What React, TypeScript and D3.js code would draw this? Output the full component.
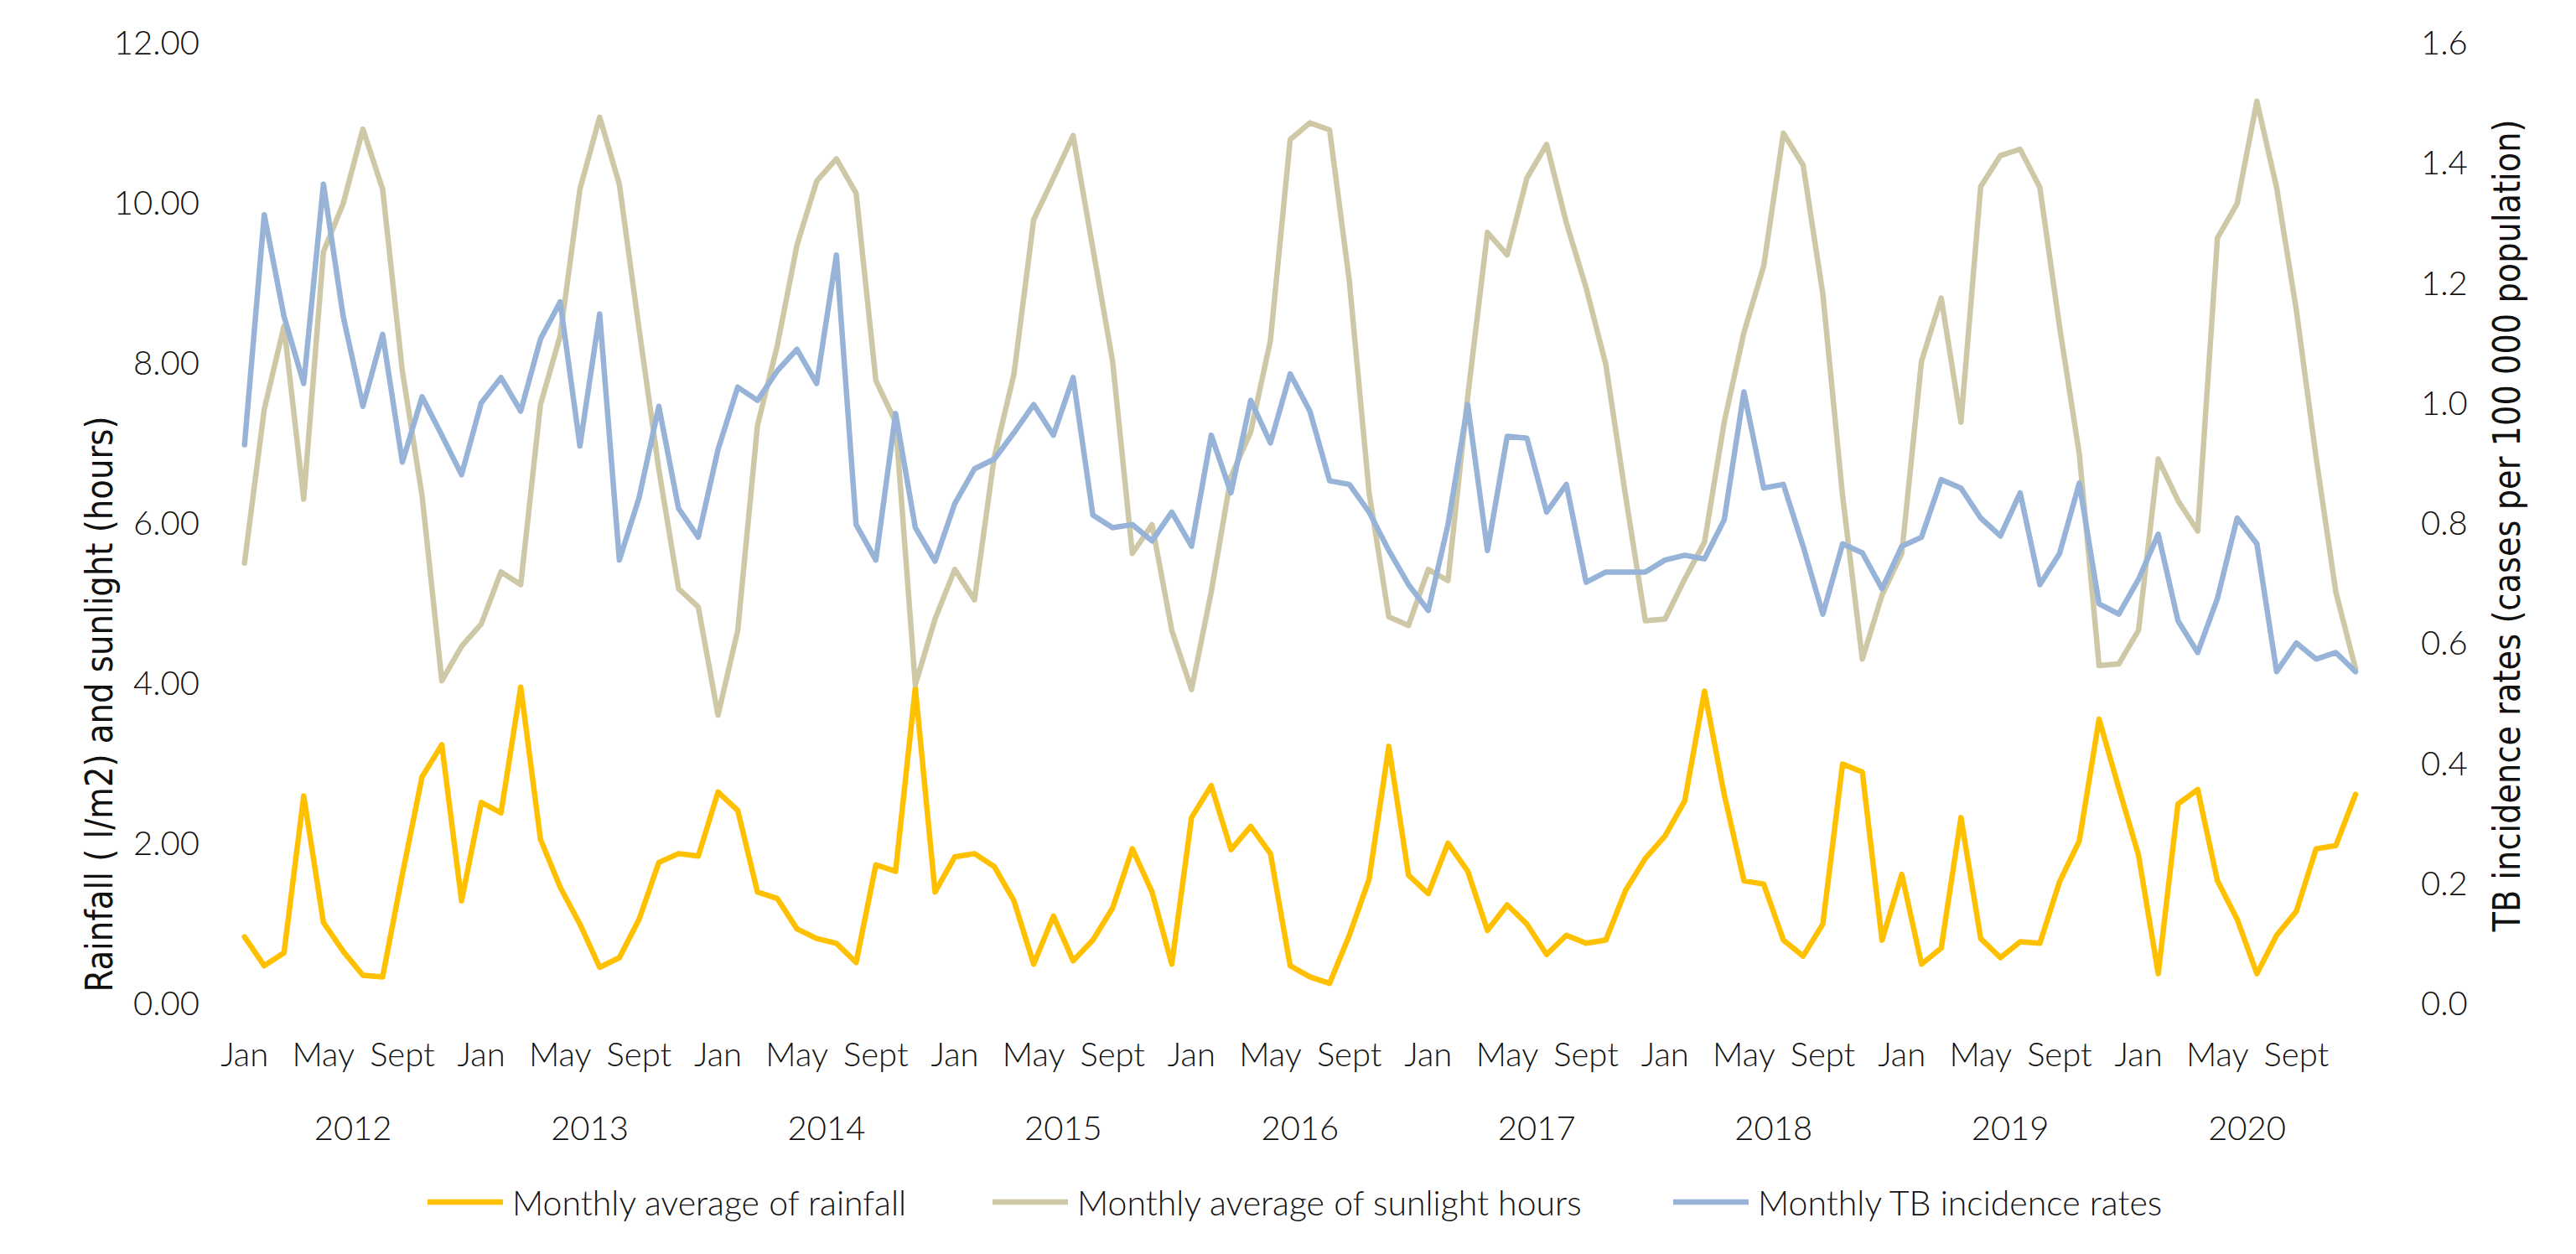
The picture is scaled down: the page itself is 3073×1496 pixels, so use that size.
import * as d3 from "d3";

// monthly values Jan 2012 .. Dec 2020
const years = [2012, 2013, 2014, 2015, 2016, 2017, 2018, 2019, 2020];
const monthTicks = [
  { offset: 0, label: "Jan" },
  { offset: 4, label: "May" },
  { offset: 8, label: "Sept" },
];

const rainfall = [
  0.82, 0.46, 0.62, 2.58, 1.0, 0.64, 0.34, 0.32, 1.6, 2.82, 3.22, 1.27,
  2.5, 2.37, 3.94, 2.04, 1.44, 0.98, 0.44, 0.56, 1.04, 1.75, 1.86, 1.83,
  2.63, 2.4, 1.38, 1.3, 0.92, 0.8, 0.74, 0.5, 1.72, 1.64, 3.93, 1.38,
  1.82, 1.86, 1.7, 1.27, 0.48, 1.08, 0.52, 0.78, 1.18, 1.92, 1.38, 0.48,
  2.31, 2.71, 1.91, 2.2, 1.86, 0.46, 0.32, 0.24, 0.84, 1.54, 3.2, 1.59,
  1.36, 1.99, 1.64, 0.9, 1.22, 0.98, 0.6, 0.84, 0.74, 0.78, 1.4, 1.8,
  2.08, 2.52, 3.89, 2.6, 1.52, 1.48, 0.78, 0.58, 0.98, 2.98, 2.88, 0.78,
  1.6, 0.48, 0.68, 2.31, 0.8, 0.56, 0.76, 0.74, 1.51, 2.02, 3.54, 2.68,
  1.84, 0.36, 2.48, 2.66, 1.52, 1.04, 0.36, 0.84, 1.14, 1.92, 1.96, 2.6,
];

const sunlight = [
  5.49, 7.41, 8.45, 6.29, 9.38, 9.98, 10.91, 10.16, 7.89, 6.33, 4.02, 4.45,
  4.73, 5.38, 5.22, 7.47, 8.33, 10.16, 11.06, 10.22, 8.41, 6.66, 5.17, 4.94,
  3.59, 4.65, 7.21, 8.2, 9.46, 10.26, 10.54, 10.11, 7.77, 7.25, 3.97, 4.79,
  5.41, 5.03, 6.81, 7.85, 9.78, 10.3, 10.83, 9.42, 8.01, 5.61, 5.97, 4.65,
  3.91, 5.13, 6.57, 7.13, 8.27, 10.78, 10.99, 10.9, 9.01, 6.37, 4.82, 4.71,
  5.41, 5.27, 7.57, 9.62, 9.34, 10.3, 10.72, 9.74, 8.93, 7.97, 6.33, 4.77,
  4.79, 5.29, 5.75, 7.25, 8.37, 9.2, 10.86, 10.46, 8.85, 6.33, 4.29, 5.09,
  5.61, 8.01, 8.8, 7.25, 10.19, 10.58, 10.66, 10.18, 8.44, 6.85, 4.21, 4.23,
  4.65, 6.79, 6.27, 5.89, 9.55, 9.98, 11.26, 10.18, 8.65, 6.81, 5.13, 4.17,
];

const tbRates = [
  0.929, 1.312, 1.143, 1.031, 1.363, 1.143, 0.993, 1.113, 0.9, 1.009, 0.945, 0.879,
  0.999, 1.041, 0.985, 1.105, 1.167, 0.927, 1.147, 0.737, 0.841, 0.993, 0.823, 0.775,
  0.921, 1.025, 1.003, 1.052, 1.088, 1.031, 1.245, 0.796, 0.737, 0.981, 0.791, 0.735,
  0.831, 0.889, 0.905, 0.949, 0.996, 0.945, 1.041, 0.812, 0.791, 0.796, 0.769, 0.817,
  0.76, 0.945, 0.849, 1.003, 0.932, 1.047, 0.985, 0.869, 0.863, 0.817, 0.753, 0.696,
  0.653, 0.796, 0.996, 0.753, 0.943, 0.94, 0.817, 0.863, 0.7, 0.717, 0.717, 0.717,
  0.737, 0.745, 0.739, 0.804, 1.017, 0.857, 0.863, 0.76, 0.647, 0.764, 0.749, 0.689,
  0.76, 0.775, 0.871, 0.857, 0.807, 0.777, 0.849, 0.696, 0.748, 0.865, 0.664, 0.647,
  0.705, 0.78, 0.636, 0.583, 0.673, 0.807, 0.764, 0.551, 0.599, 0.572, 0.583, 0.551,
];

const leftTicks = [0, 2, 4, 6, 8, 10, 12];
const rightTicks = [0, 0.2, 0.4, 0.6, 0.8, 1.0, 1.2, 1.4, 1.6];

const legendItems = [
  { label: "Monthly average of rainfall", color: "#FFC000", x: 510 },
  { label: "Monthly average of sunlight hours", color: "#CFC8A7", x: 1184 },
  { label: "Monthly TB incidence rates", color: "#97B4D8", x: 1996 },
];

const W = 3073;
const H = 1496;
const FONT = "Lato, 'Open Sans', sans-serif";
const TITLE_FONT = "'Liberation Sans Narrow', 'DejaVu Sans Condensed', sans-serif";

export default function App() {
  const x = d3.scaleLinear().domain([0, rainfall.length - 1]).range([291.7, 2810]);
  const yLeft = d3.scaleLinear().domain([0, 12]).range([1196, 50]);
  const yRight = d3.scaleLinear().domain([0, 1.6]).range([1196, 50]);

  const leftLine = d3
    .line<number>()
    .x((_, i) => x(i))
    .y((d) => yLeft(d));
  const rightLine = d3
    .line<number>()
    .x((_, i) => x(i))
    .y((d) => yRight(d));

  const lineStyle = {
    fill: "none",
    strokeWidth: 6.5,
    strokeLinejoin: "round" as const,
    strokeLinecap: "round" as const,
  };

  return (
    <div style={{ position: "absolute", left: 0, top: 0 }}>
      <svg width={W} height={H} style={{ display: "block", background: "#fff" }}>
        {/* tick labels, both y axes */}
        <g fontFamily={FONT} fontWeight={300} fontSize={40} fill="#111">
          {leftTicks.map((t) => (
            <text key={t} x={238} y={yLeft(t)} textAnchor="end" dominantBaseline="central">
              {d3.format(".2f")(t)}
            </text>
          ))}
          {rightTicks.map((t) => (
            <text key={t} x={2888} y={yRight(t)} textAnchor="start" dominantBaseline="central">
              {d3.format(".1f")(t)}
            </text>
          ))}
        </g>

        <text
          transform="translate(118,840) rotate(-90)"
          textAnchor="middle"
          dominantBaseline="central"
          fontFamily={TITLE_FONT}
          fontSize={44}
          textLength={687}
          lengthAdjust="spacingAndGlyphs"
          fill="#111"
        >
          Rainfall ( l/m2) and sunlight (hours)
        </text>
        <text
          transform="translate(2990,627) rotate(-90)"
          textAnchor="middle"
          dominantBaseline="central"
          fontFamily={TITLE_FONT}
          fontSize={44}
          textLength={969}
          lengthAdjust="spacingAndGlyphs"
          fill="#111"
        >
          TB incidence rates (cases per 100 000 population)
        </text>

        {/* x axis: months and years */}
        <g fontFamily={FONT} fontWeight={300} fontSize={40} fill="#111" textAnchor="middle">
          {years.map((yr, yi) => (
            <g key={yr}>
              {monthTicks.map((m) => (
                <text key={m.label} x={x(yi * 12 + m.offset)} y={1257} dominantBaseline="central">
                  {m.label}
                </text>
              ))}
              <text x={x(yi * 12 + 5.5)} y={1345} dominantBaseline="central">
                {yr}
              </text>
            </g>
          ))}
        </g>

        {/* series */}
        <path d={leftLine(rainfall) ?? ""} stroke="#FFC000" {...lineStyle} />
        <path d={leftLine(sunlight) ?? ""} stroke="#CFC8A7" {...lineStyle} />
        <path d={rightLine(tbRates) ?? ""} stroke="#97B4D8" {...lineStyle} />

        {/* legend */}
        <g fontFamily={FONT} fontWeight={300} fontSize={41} fill="#111">
          {legendItems.map((it) => (
            <g key={it.label}>
              <line x1={it.x} x2={it.x + 90} y1={1434} y2={1434} stroke={it.color} strokeWidth={6.5} />
              <text x={it.x + 101} y={1434} dominantBaseline="central">
                {it.label}
              </text>
            </g>
          ))}
        </g>
      </svg>
    </div>
  );
}
